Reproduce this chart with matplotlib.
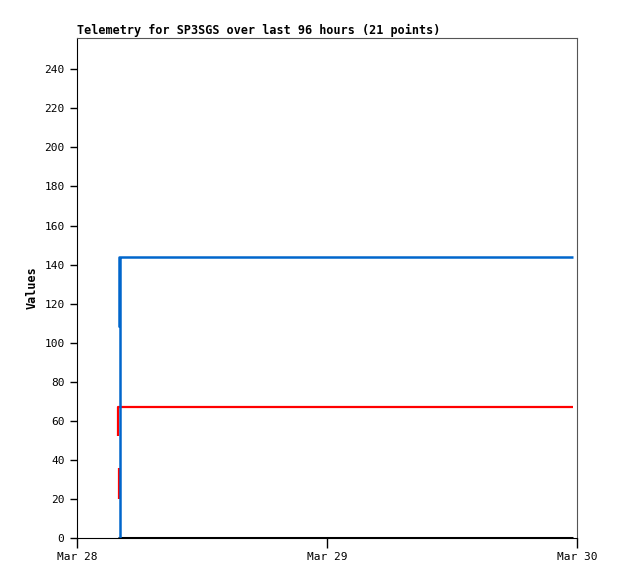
import numpy as np
import matplotlib
matplotlib.use('Agg')
import matplotlib.pyplot as plt
import matplotlib.dates as mdates

# minutes after Mar 28 00:00, NaN values break the line
blue_minutes = [242, 242, 2856, 2856, 250, 250]
blue_values = [108, 144, 144, np.nan, 0, 144]
red_minutes = [238, 238, 2856, 2856, 242, 242]
red_values = [52, 67, 67, np.nan, 20, 36]
black_minutes = [236, 2856]
black_values = [0, 0]

start = np.datetime64('2024-03-28T00:00')
x_ticks = ['2024-03-28', '2024-03-29', '2024-03-30']
y_ticks = list(range(0, 241, 20))


def to_dates(minutes):
    return mdates.date2num(start + np.array(minutes, dtype='timedelta64[m]'))


plt.rcParams['font.family'] = ['DejaVu Sans Mono']
fig = plt.figure(figsize=(6.18, 5.79), dpi=100)
ax = fig.add_axes([77 / 618, 41 / 579, 500 / 618, 500 / 579])

ax.plot(to_dates(black_minutes), black_values, color='black', lw=2.2, solid_capstyle='butt')
ax.plot(to_dates(red_minutes), red_values, color='#ff0000', lw=1.6, solid_capstyle='butt')
ax.plot(to_dates(blue_minutes), blue_values, color='#0066cc', lw=1.8, solid_capstyle='butt')

ax.set_xlim(mdates.date2num(np.datetime64(x_ticks[0])), mdates.date2num(np.datetime64(x_ticks[-1])))
ax.set_ylim(0, 256)
ax.set_xticks([mdates.date2num(np.datetime64(d)) for d in x_ticks])
ax.xaxis.set_major_formatter(mdates.DateFormatter('%b %d'))
ax.set_yticks(y_ticks)
ax.tick_params(axis='y', direction='out', length=5, width=1, labelsize=8, pad=4)
ax.tick_params(axis='x', direction='out', length=7, width=1, labelsize=8, pad=3)

for side in ['top', 'right']:
    ax.spines[side].set_color('#555555')
for side in ['left', 'bottom']:
    ax.spines[side].set_color('black')

ax.set_ylabel('Values', fontsize=8.5, fontweight='bold', labelpad=4)
ax.set_title('Telemetry for SP3SGS over last 96 hours (21 points)', fontsize=8.5,
             fontweight='bold', loc='left', pad=3)

fig.savefig('out.png', dpi=100)
